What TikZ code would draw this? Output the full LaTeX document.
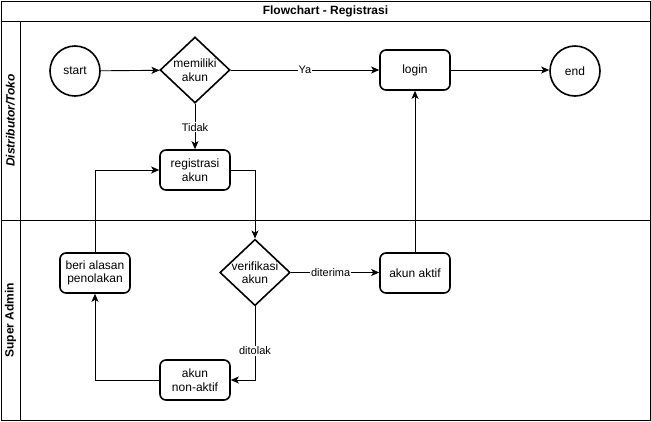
\documentclass[tikz,border=0pt]{standalone}
\usepackage{fontspec}
\setmainfont{Liberation Sans}
\usetikzlibrary{shapes.geometric,arrows.meta}
\begin{document}
\begin{tikzpicture}[x=1pt,y=-1pt,
  every node/.style={font=\fontsize{12}{13.5}\selectfont, align=center, inner sep=0pt},
  proc/.style={draw, line width=1.6pt, rounded corners=6pt, minimum width=70pt, minimum height=40pt},
  term/.style={draw, circle, line width=1.6pt, minimum size=50pt},
  dec/.style={draw, diamond, line width=1.6pt, minimum width=70pt, minimum height=66pt, aspect=1.06},
  conn/.style={line width=0.9pt, -{Stealth[length=8pt,width=7pt,inset=2pt]}},
  lbl/.style={fill=white, font=\fontsize{11}{12}\selectfont, inner sep=1pt},
  frame/.style={line width=1pt}
]
\useasboundingbox (0,0) rectangle (651,421);
% frame
\draw[frame] (1,1) rectangle (650,420);
\draw[frame] (1,21) -- (650,21);
\draw[frame] (20,21) -- (20,420);
\draw[frame] (1,220) -- (650,220);
\node[font=\bfseries\fontsize{12}{13.5}\selectfont] (title) at (325.5,11) {Flowchart - Registrasi};
\node[font=\bfseries\itshape\fontsize{12}{13.5}\selectfont, rotate=90] (lane1) at (10.5,120.5) {Distributor/Toko};
\node[font=\bfseries\fontsize{12}{13.5}\selectfont, rotate=90] (lane2) at (10.5,320) {Super Admin};

% nodes
\node[term] (start) at (75,71) {start};
\node[dec] (memiliki) at (195,70) {memiliki\\akun};
\node[proc] (login) at (415,70) {login};
\node[term] (end) at (575,71) {end};
\node[proc] (reg) at (195,170) {registrasi\\akun};
\node[dec] (verif) at (255,272.5) {verifikasi\\akun};
\node[proc] (aktif) at (415,273) {akun aktif};
\node[proc] (alasan) at (95,273) {beri alasan\\penolakan};
\node[proc] (non) at (195,380) {akun\\non-aktif};

% connectors
\draw[conn] (start) -- (memiliki);
\draw[conn] (memiliki.east) -- node[lbl] {Ya} (login.west |- memiliki.east);
\draw[conn] (login) -- (end.west |- login.east);
\draw[conn] (memiliki.south) -- node[lbl, pos=0.52] {Tidak} (reg.north);
\draw[conn] (reg.east) -| (verif.north);
\draw[conn] (verif.east) -- node[lbl, pos=0.45] {diterima} (aktif.west |- verif.east);
\draw[conn] (aktif.north) -- (login.south);
\draw[conn] (verif.south) |- node[lbl, pos=0.3] {ditolak} (non.east);
\draw[conn] (non.west) -| (alasan.south);
\draw[conn] (alasan.north) |- (reg.west);
\end{tikzpicture}
\end{document}
